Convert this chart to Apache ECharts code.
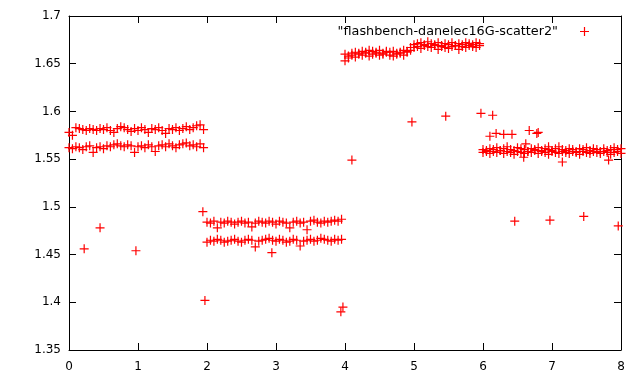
<!DOCTYPE html>
<html>
<head>
<meta charset="utf-8">
<script src="https://cdn.jsdelivr.net/npm/echarts@6/dist/echarts.min.js"></script>
<style>
  html, body { margin: 0; padding: 0; background: #fff; }
  #chart { width: 640px; height: 384px; }
</style>
</head>
<body>
<div id="chart"></div>
<script>
// values (x in run, y in seconds)
const segA_x = [0.00, 0.05, 0.10, 0.15, 0.20, 0.25, 0.30, 0.35, 0.40, 0.45, 0.50, 0.55, 0.60, 0.65, 0.70, 0.75, 0.80, 0.85, 0.90, 0.95,
  1.00, 1.05, 1.10, 1.15, 1.20, 1.25, 1.30, 1.35, 1.40, 1.45, 1.50, 1.55, 1.60, 1.65, 1.70, 1.75, 1.80, 1.85, 1.90, 1.95]
const segA_hi = [1.578, 1.575, 1.583, 1.582, 1.581, 1.580, 1.582, 1.581, 1.580, 1.582, 1.581, 1.583, 1.580, 1.578, 1.582, 1.584, 1.583, 1.581, 1.579, 1.582,
  1.580, 1.583, 1.581, 1.578, 1.582, 1.581, 1.583, 1.580, 1.577, 1.582, 1.581, 1.583, 1.580, 1.582, 1.584, 1.581, 1.583, 1.585, 1.586, 1.581]
const segA_lo = [1.562, 1.561, 1.563, 1.562, 1.560, 1.563, 1.564, 1.557, 1.562, 1.563, 1.561, 1.564, 1.563, 1.565, 1.566, 1.564, 1.563, 1.565, 1.564, 1.557,
  1.563, 1.564, 1.562, 1.565, 1.563, 1.558, 1.564, 1.565, 1.563, 1.566, 1.564, 1.562, 1.565, 1.566, 1.567, 1.564, 1.565, 1.563, 1.566, 1.562]

const segB_x = [2.00, 2.05, 2.10, 2.15, 2.20, 2.25, 2.30, 2.35, 2.40, 2.45, 2.50, 2.55, 2.60, 2.65, 2.70, 2.75, 2.80, 2.85, 2.90, 2.95,
  3.00, 3.05, 3.10, 3.15, 3.20, 3.25, 3.30, 3.35, 3.40, 3.45, 3.50, 3.55, 3.60, 3.65, 3.70, 3.75, 3.80, 3.85, 3.90, 3.95]
const segB_hi = [1.484, 1.483, 1.485, 1.478, 1.484, 1.483, 1.485, 1.484, 1.482, 1.484, 1.485, 1.483, 1.484, 1.479, 1.483, 1.485, 1.484, 1.483, 1.485, 1.484,
  1.482, 1.485, 1.484, 1.483, 1.478, 1.484, 1.485, 1.483, 1.484, 1.476, 1.485, 1.486, 1.484, 1.483, 1.485, 1.484, 1.485, 1.486, 1.485, 1.487]
const segB_lo = [1.463, 1.465, 1.464, 1.466, 1.465, 1.463, 1.464, 1.465, 1.466, 1.464, 1.463, 1.465, 1.466, 1.465, 1.458, 1.464, 1.465, 1.466, 1.467, 1.465,
  1.464, 1.466, 1.465, 1.463, 1.464, 1.466, 1.465, 1.459, 1.464, 1.465, 1.466, 1.464, 1.465, 1.467, 1.466, 1.465, 1.464, 1.466, 1.465, 1.466]

const segC_x = [4.00, 4.05, 4.10, 4.15, 4.20, 4.25, 4.30, 4.35, 4.40, 4.45, 4.50, 4.55, 4.60, 4.65, 4.70, 4.75, 4.80, 4.85, 4.90, 4.95,
  5.00, 5.05, 5.10, 5.15, 5.20, 5.25, 5.30, 5.35, 5.40, 5.45, 5.50, 5.55, 5.60, 5.65, 5.70, 5.75, 5.80, 5.85, 5.90, 5.95]
const segC_hi = [1.660, 1.656, 1.661, 1.662, 1.661, 1.663, 1.662, 1.664, 1.663, 1.662, 1.664, 1.661, 1.663, 1.662, 1.663, 1.661, 1.662, 1.664, 1.663, 1.667,
  1.670, 1.671, 1.672, 1.670, 1.673, 1.671, 1.670, 1.672, 1.669, 1.671, 1.670, 1.672, 1.669, 1.671, 1.670, 1.672, 1.671, 1.670, 1.672, 1.671]
const segC_lo = [1.653, 1.658, 1.659, 1.657, 1.660, 1.659, 1.661, 1.658, 1.660, 1.661, 1.659, 1.660, 1.662, 1.659, 1.658, 1.660, 1.661, 1.659, 1.662, 1.664,
  1.667, 1.668, 1.666, 1.669, 1.668, 1.667, 1.669, 1.665, 1.668, 1.667, 1.666, 1.668, 1.669, 1.665, 1.668, 1.667, 1.669, 1.668, 1.667, 1.669]

const segD_x = [6.00, 6.05, 6.10, 6.15, 6.20, 6.25, 6.30, 6.35, 6.40, 6.45, 6.50, 6.55, 6.60, 6.65, 6.70, 6.75, 6.80, 6.85, 6.90, 6.95,
  7.00, 7.05, 7.10, 7.15, 7.20, 7.25, 7.30, 7.35, 7.40, 7.45, 7.50, 7.55, 7.60, 7.65, 7.70, 7.75, 7.80, 7.85, 7.90, 7.95, 8.00]
const segD_hi = [1.560, 1.559, 1.561, 1.560, 1.562, 1.559, 1.561, 1.563, 1.560, 1.559, 1.562, 1.561, 1.560, 1.558, 1.561, 1.560, 1.562, 1.559, 1.561, 1.560,
  1.559, 1.561, 1.563, 1.560, 1.559, 1.561, 1.560, 1.558, 1.561, 1.560, 1.562, 1.559, 1.561, 1.560, 1.558, 1.561, 1.559, 1.560, 1.562, 1.560, 1.561]
const segD_lo = [1.557, 1.558, 1.556, 1.558, 1.557, 1.559, 1.556, 1.558, 1.557, 1.555, 1.558, 1.557, 1.556, 1.558, 1.557, 1.559, 1.556, 1.558, 1.557, 1.555,
  1.558, 1.557, 1.556, 1.558, 1.557, 1.556, 1.558, 1.557, 1.555, 1.558, 1.557, 1.556, 1.558, 1.557, 1.556, 1.558, 1.557, 1.555, 1.557, 1.558, 1.556]

// stray points away from the bands
const outliers = [
  [0.22, 1.456], [0.45, 1.478], [0.97, 1.454], [1.94, 1.495], [1.97, 1.402], [2.94, 1.452],
  [3.94, 1.390], [3.97, 1.395], [4.10, 1.549], [4.97, 1.589], [5.46, 1.595], [5.97, 1.598],
  [6.14, 1.596], [6.10, 1.574], [6.19, 1.577], [6.30, 1.576], [6.42, 1.576], [6.67, 1.580],
  [6.78, 1.577], [6.80, 1.578], [6.46, 1.485], [6.97, 1.486], [7.46, 1.490], [7.96, 1.480],
  [6.62, 1.566], [6.59, 1.552], [7.15, 1.547], [7.82, 1.549], [6.95, 1.563]
]

const yTicks = [1.35, 1.4, 1.45, 1.5, 1.55, 1.6, 1.65, 1.7]

// gnuplot style "+" marker, drawn filled
const PLUS = 'path://M0,3.9H9V5.1H0Z M3.9,0H5.1V9H3.9Z'
const FONT = 'DejaVu Sans'

function zip (xs, ys) {
  return xs.map((x, i) => [x, ys[i]])
}

const points = [].concat(
  zip(segA_x, segA_hi), zip(segA_x, segA_lo),
  zip(segB_x, segB_hi), zip(segB_x, segB_lo),
  zip(segC_x, segC_hi), zip(segC_x, segC_lo),
  zip(segD_x, segD_hi), zip(segD_x, segD_lo),
  outliers
)

const axisCommon = {
  type: 'value',
  axisLine: { show: true, onZero: false, lineStyle: { color: '#000', width: 1 } },
  axisTick: { show: true, inside: true, length: 7, lineStyle: { color: '#000', width: 1 } },
  splitLine: { show: false }
}

const myEcharts = echarts.init(document.getElementById('chart'), null, { renderer: 'canvas' })
myEcharts.setOption({
  animation: false,
  backgroundColor: '#fff',
  grid: { left: 69, right: 19, top: 16, bottom: 34 },
  legend: {
    right: 46,
    top: 20,
    align: 'right',
    itemWidth: 9,
    itemHeight: 9,
    icon: PLUS,
    textStyle: { fontFamily: FONT, fontSize: 12.8, color: '#000', padding: [0, 17, 0, 0] },
    formatter: name => '"' + name + '"',
    data: ['flashbench-danelec16G-scatter2']
  },
  xAxis: [
    Object.assign({}, axisCommon, {
      min: 0, max: 8, interval: 1,
      axisLabel: { color: '#000', fontFamily: FONT, fontSize: 12, margin: 11 }
    }),
    Object.assign({}, axisCommon, {
      position: 'top', min: 0, max: 8, interval: 1,
      axisLabel: { show: false }
    })
  ],
  yAxis: [
    Object.assign({}, axisCommon, {
      min: yTicks[0], max: yTicks[yTicks.length - 1], interval: 0.05,
      axisLabel: {
        color: '#000', fontFamily: FONT, fontSize: 12, margin: 8,
        formatter: v => String(parseFloat(v.toFixed(2)))
      }
    }),
    Object.assign({}, axisCommon, {
      position: 'right', min: yTicks[0], max: yTicks[yTicks.length - 1], interval: 0.05,
      axisLabel: { show: false }
    })
  ],
  series: [{
    name: 'flashbench-danelec16G-scatter2',
    type: 'scatter',
    symbol: PLUS,
    symbolSize: 9,
    itemStyle: { color: '#ff0000', opacity: 1 },
    data: points
  }]
})
</script>
</body>
</html>
